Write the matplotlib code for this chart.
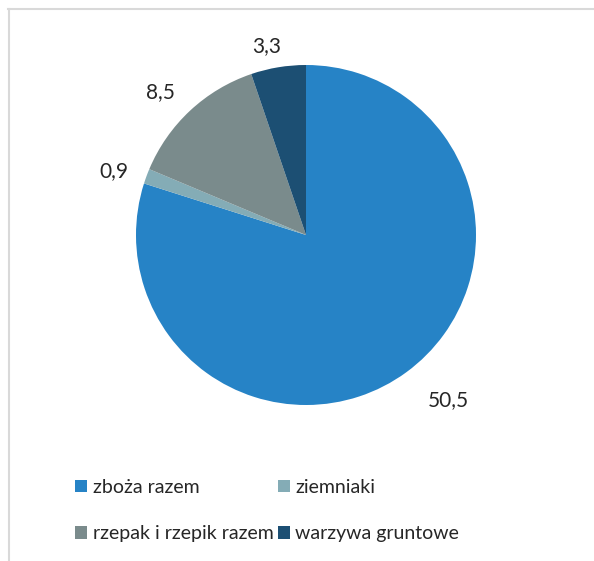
import matplotlib
matplotlib.use('Agg')
import matplotlib.pyplot as plt
import numpy as np
from matplotlib.patches import Rectangle
from matplotlib.lines import Line2D

plt.rcParams['font.family'] = ['Lato', 'DejaVu Sans']

categories = ['zboża razem', 'ziemniaki', 'rzepak i rzepik razem', 'warzywa gruntowe']
values = [50.5, 0.9, 8.5, 3.3]
value_labels = ['50,5', '0,9', '8,5', '3,3']
colors = ['#2683c6', '#84acb6', '#7a8b8c', '#1c4f73']

W, H = 594, 561
fig = plt.figure(figsize=(W / 100, H / 100), dpi=100)

# pie centre (306, 235) px, radius 170 px
r = 170
ax = fig.add_axes([(306 - 1.5 * r) / W, (H - 235 - 1.5 * r) / H, 3 * r / W, 3 * r / H])
wedges, _ = ax.pie(values, colors=colors, startangle=90, counterclock=False,
                   radius=1, wedgeprops=dict(linewidth=0))
ax.set_xlim(-1.5, 1.5)
ax.set_ylim(-1.5, 1.5)
ax.set_aspect('equal')
ax.axis('off')

# data labels outside the slices (distance + small nudge like Excel does)
dists = [1.28, 1.2, 1.2, 1.15]
nudge = [(0.082, 0.065), (-0.006, -0.041), (-0.035, -0.035), (-0.041, -0.024)]
for w, lab, d, (nx, ny) in zip(wedges, value_labels, dists, nudge):
    th = np.deg2rad((w.theta1 + w.theta2) / 2)
    ax.text(d * np.cos(th) + nx, d * np.sin(th) + ny, lab, ha='center', va='center',
            fontsize=15, color='#262626')

# legend, filled row by row
order = [0, 2, 1, 3]
handles = [Rectangle((0, 0), 1, 1, facecolor=colors[i], edgecolor='none') for i in order]
fig.legend(handles, [categories[i] for i in order], loc='upper left', ncol=2,
           bbox_to_anchor=(75 / W, 1 - 479 / H), frameon=False,
           fontsize=14, handlelength=0.62, handleheight=0.62,
           handletextpad=0.3, columnspacing=0.2, labelspacing=1.5,
           borderpad=0, borderaxespad=0, labelcolor='#262626')

# light frame lines
fig.add_artist(Line2D([8 / W, 1], [1 - 9 / H, 1 - 9 / H], color='#d9d9d9', lw=1.5))
fig.add_artist(Line2D([9 / W, 9 / W], [0, 1 - 9 / H], color='#d9d9d9', lw=1.5))

fig.savefig('out.png', dpi=100, facecolor='white')
